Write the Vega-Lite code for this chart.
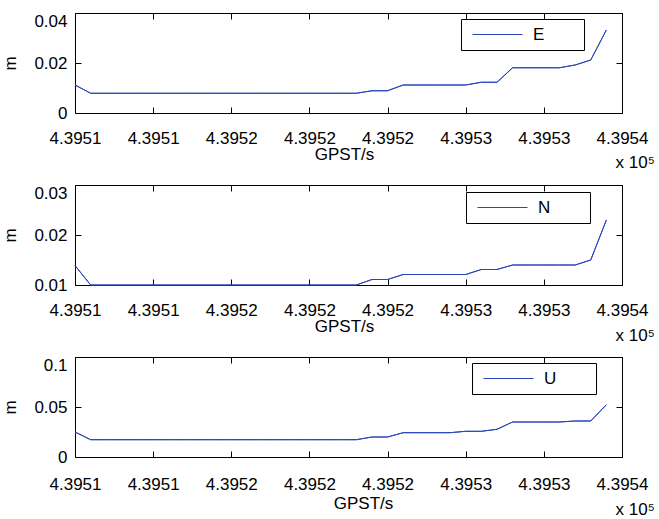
{
  "$schema": "https://vega.github.io/schema/vega-lite/v6.json",
  "background": "white",
  "padding": {"left": 1, "top": 11, "right": 2, "bottom": 5},
  "config": {
    "font": "Liberation Sans",
    "view": {"stroke": "black", "strokeWidth": 1},
    "axis": {"labelFont": "Liberation Sans", "labelFontSize": 17, "labelColor": "black", "titleFont": "Liberation Sans", "titleFontSize": 17, "titleFontWeight": "normal", "titleColor": "black", "tickColor": "black", "tickSize": -6, "domain": false, "grid": false, "labelFlush": false},
    "legend": {"orient": "none", "symbolStrokeWidth": 1, "strokeColor": "black", "fillColor": "white", "padding": 7, "labelFontSize": 17, "labelFont": "Liberation Sans", "labelColor": "black", "symbolType": "M-5,0H5", "symbolSize": 100, "symbolOffset": 21, "labelOffset": 27, "titleOrient": "right", "titleFont": "Liberation Sans", "titleFontSize": 17, "titleColor": "white", "titleOpacity": 0, "titlePadding": 4, "titleFontWeight": "normal"},
    "line": {"strokeWidth": 1}
  },
  "datasets": {
    "gps": [
      {"t": 439505, "E": 0.0112, "N": 0.0139, "U": 0.025},
      {"t": 439506, "E": 0.0079, "N": 0.0100, "U": 0.0173},
      {"t": 439507, "E": 0.0079, "N": 0.0100, "U": 0.0173},
      {"t": 439508, "E": 0.0079, "N": 0.0100, "U": 0.0173},
      {"t": 439509, "E": 0.0079, "N": 0.0100, "U": 0.0173},
      {"t": 439510, "E": 0.0079, "N": 0.0100, "U": 0.0173},
      {"t": 439511, "E": 0.0079, "N": 0.0100, "U": 0.0173},
      {"t": 439512, "E": 0.0079, "N": 0.0100, "U": 0.0173},
      {"t": 439513, "E": 0.0079, "N": 0.0100, "U": 0.0173},
      {"t": 439514, "E": 0.0079, "N": 0.0100, "U": 0.0173},
      {"t": 439515, "E": 0.0079, "N": 0.0100, "U": 0.0173},
      {"t": 439516, "E": 0.0079, "N": 0.0100, "U": 0.0173},
      {"t": 439517, "E": 0.0079, "N": 0.0100, "U": 0.0173},
      {"t": 439518, "E": 0.0079, "N": 0.0100, "U": 0.0173},
      {"t": 439519, "E": 0.0079, "N": 0.0100, "U": 0.0173},
      {"t": 439520, "E": 0.0079, "N": 0.0100, "U": 0.0173},
      {"t": 439521, "E": 0.0079, "N": 0.0100, "U": 0.0173},
      {"t": 439522, "E": 0.0079, "N": 0.0100, "U": 0.0173},
      {"t": 439523, "E": 0.0079, "N": 0.0100, "U": 0.0173},
      {"t": 439524, "E": 0.0089, "N": 0.0111, "U": 0.020},
      {"t": 439525, "E": 0.0089, "N": 0.0111, "U": 0.020},
      {"t": 439526, "E": 0.0112, "N": 0.0121, "U": 0.0243},
      {"t": 439527, "E": 0.0112, "N": 0.0121, "U": 0.0243},
      {"t": 439528, "E": 0.0112, "N": 0.0121, "U": 0.0243},
      {"t": 439529, "E": 0.0112, "N": 0.0121, "U": 0.0243},
      {"t": 439530, "E": 0.0112, "N": 0.0121, "U": 0.0257},
      {"t": 439531, "E": 0.0123, "N": 0.0131, "U": 0.0257},
      {"t": 439532, "E": 0.0123, "N": 0.0131, "U": 0.0277},
      {"t": 439533, "E": 0.0181, "N": 0.0140, "U": 0.035},
      {"t": 439534, "E": 0.0181, "N": 0.0140, "U": 0.035},
      {"t": 439535, "E": 0.0181, "N": 0.0140, "U": 0.035},
      {"t": 439536, "E": 0.0181, "N": 0.0140, "U": 0.035},
      {"t": 439537, "E": 0.0192, "N": 0.0140, "U": 0.036},
      {"t": 439538, "E": 0.0212, "N": 0.0150, "U": 0.036},
      {"t": 439539, "E": 0.0332, "N": 0.0230, "U": 0.0523}
    ]
  },
  "bounds": "flush",
  "spacing": 72,
  "resolve": {"scale": {"color": "independent", "x": "independent", "y": "independent"}, "legend": {"color": "independent"}},
  "vconcat": [
    {
      "width": 547, "height": 100,
      "data": {"name": "gps"},
      "layer": [
        {
          "mark": {"type": "line", "color": "#2846b8"},
          "encoding": {
            "x": {"field": "t", "type": "quantitative", "scale": {"domain": [439505, 439540], "nice": false, "zero": false},
              "axis": {"orient": "bottom", "values": [439505, 439510, 439515, 439520, 439525, 439530, 439535, 439540], "labelExpr": "datum.value==439505?'4.3951':datum.value==439515?'4.3952':datum.value==439525?'4.3952':datum.value==439535?'4.3953':format(datum.value/100000,'.4f')", "labelPadding": 23, "title": "GPST/s", "titlePadding": 0, "titleX": 269, "titleAlign": "center", "titleAnchor": null}},
            "y": {"field": "E", "type": "quantitative", "scale": {"domain": [0, 0.04], "nice": false, "zero": false},
              "axis": {"orient": "left", "values": [0, 0.02, 0.04], "format": "~g", "labelPadding": 14, "title": "m", "titlePadding": 14, "labelBaseline": {"condition": {"test": "datum.value == 0.04", "value": "top"}, "value": "middle"}}},
            "color": {"datum": "E", "type": "nominal", "scale": {"range": ["#2846b8"]}, "legend": {"legendX": 386, "legendY": 6, "title": "MM"}}
          }
        },
        {
          "mark": {"type": "line", "color": "#2846b8"},
          "encoding": {
            "x": {"field": "t", "type": "quantitative", "axis": {"orient": "top", "values": [439505, 439510, 439515, 439520, 439525, 439530, 439535, 439540], "labels": false, "title": "x 10⁵", "titleX": 540, "titleY": 154, "titleAlign": "left", "titleBaseline": "alphabetic", "titleAngle": 0}},
            "y": {"field": "E", "type": "quantitative", "axis": {"orient": "right", "values": [0, 0.02, 0.04], "labels": false, "title": null}}
          }
        }
      ],
      "resolve": {"axis": {"x": "independent", "y": "independent"}}
    },
    {
      "width": 547, "height": 100,
      "data": {"name": "gps"},
      "layer": [
        {
          "mark": {"type": "line", "color": "#2846b8"},
          "encoding": {
            "x": {"field": "t", "type": "quantitative", "scale": {"domain": [439505, 439540], "nice": false, "zero": false},
              "axis": {"orient": "bottom", "values": [439505, 439510, 439515, 439520, 439525, 439530, 439535, 439540], "labelExpr": "datum.value==439505?'4.3951':datum.value==439515?'4.3952':datum.value==439525?'4.3952':datum.value==439535?'4.3953':format(datum.value/100000,'.4f')", "labelPadding": 23, "title": "GPST/s", "titlePadding": 0, "titleX": 269, "titleAlign": "center", "titleAnchor": null}},
            "y": {"field": "N", "type": "quantitative", "scale": {"domain": [0.01, 0.03], "nice": false, "zero": false},
              "axis": {"orient": "left", "values": [0.01, 0.02, 0.03], "format": "~g", "labelPadding": 14, "title": "m", "titlePadding": 14, "labelBaseline": {"condition": {"test": "datum.value == 0.03", "value": "top"}, "value": "middle"}}},
            "color": {"datum": "N", "type": "nominal", "scale": {"range": ["#2846b8"]}, "legend": {"legendX": 391, "legendY": 7, "title": "MM"}}
          }
        },
        {
          "mark": {"type": "line", "color": "#2846b8"},
          "encoding": {
            "x": {"field": "t", "type": "quantitative", "axis": {"orient": "top", "values": [439505, 439510, 439515, 439520, 439525, 439530, 439535, 439540], "labels": false, "title": "x 10⁵", "titleX": 540, "titleY": 155, "titleAlign": "left", "titleBaseline": "alphabetic", "titleAngle": 0}},
            "y": {"field": "N", "type": "quantitative", "axis": {"orient": "right", "values": [0.01, 0.02, 0.03], "labels": false, "title": null}}
          }
        }
      ],
      "resolve": {"axis": {"x": "independent", "y": "independent"}}
    },
    {
      "width": 547, "height": 100,
      "data": {"name": "gps"},
      "layer": [
        {
          "mark": {"type": "line", "color": "#2846b8"},
          "encoding": {
            "x": {"field": "t", "type": "quantitative", "scale": {"domain": [439505, 439540], "nice": false, "zero": false},
              "axis": {"orient": "bottom", "values": [439505, 439510, 439515, 439520, 439525, 439530, 439535, 439540], "labelExpr": "datum.value==439505?'4.3951':datum.value==439515?'4.3952':datum.value==439525?'4.3952':datum.value==439535?'4.3953':format(datum.value/100000,'.4f')", "labelPadding": 25, "title": "GPST/s", "titlePadding": 3, "titleX": 288, "titleAlign": "center", "titleAnchor": null}},
            "y": {"field": "U", "type": "quantitative", "scale": {"domain": [0, 0.1], "nice": false, "zero": false},
              "axis": {"orient": "left", "values": [0, 0.05, 0.1], "format": "~g", "labelPadding": 14, "title": "m", "titlePadding": 14, "labelBaseline": {"condition": {"test": "datum.value == 0.1", "value": "top"}, "value": "middle"}}},
            "color": {"datum": "U", "type": "nominal", "scale": {"range": ["#2846b8"]}, "legend": {"legendX": 397, "legendY": 6, "title": "MM"}}
          }
        },
        {
          "mark": {"type": "line", "color": "#2846b8"},
          "encoding": {
            "x": {"field": "t", "type": "quantitative", "axis": {"orient": "top", "values": [439505, 439510, 439515, 439520, 439525, 439530, 439535, 439540], "labels": false, "title": "x 10⁵", "titleX": 540, "titleY": 157, "titleAlign": "left", "titleBaseline": "alphabetic", "titleAngle": 0}},
            "y": {"field": "U", "type": "quantitative", "axis": {"orient": "right", "values": [0, 0.05, 0.1], "labels": false, "title": null}}
          }
        }
      ],
      "resolve": {"axis": {"x": "independent", "y": "independent"}}
    }
  ]
}
